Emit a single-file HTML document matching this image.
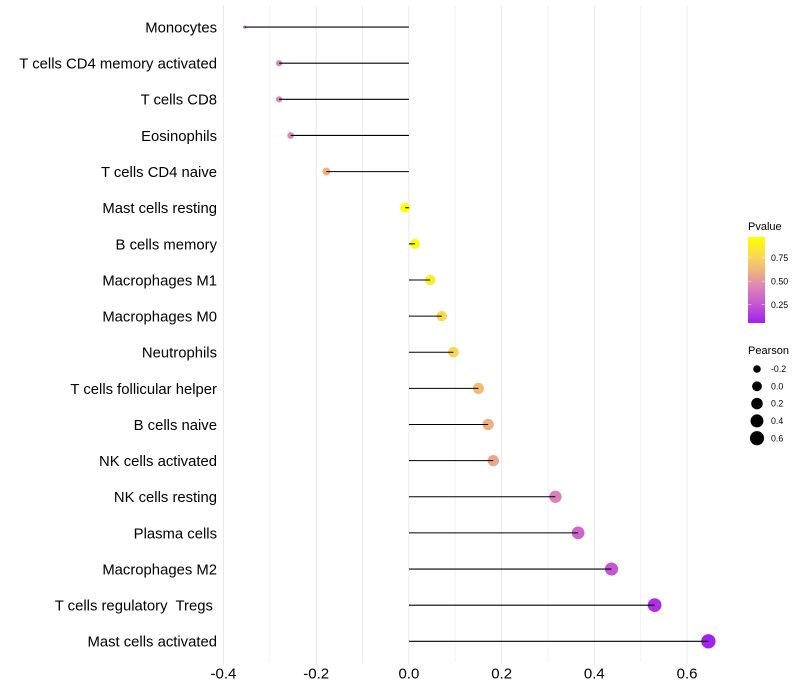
<!DOCTYPE html>
<html>
<head>
<meta charset="utf-8">
<title>Immune cell correlation lollipop chart</title>
<style>
html,body{margin:0;padding:0;background:#fff;}
svg{display:block;font-family:"Liberation Sans",Arial,sans-serif;}
</style>
</head>
<body>
<svg id="chart" xmlns="http://www.w3.org/2000/svg" width="800" height="700" viewBox="0 0 800 700">
  <defs>
    <linearGradient id="pvalue-gradient" x1="0" y1="1" x2="0" y2="0">
      <stop offset="0" stop-color="#a020f0"/>
      <stop offset="0.209" stop-color="#c455d5"/>
      <stop offset="0.429" stop-color="#dd85b5"/>
      <stop offset="0.593" stop-color="#eeb080"/>
      <stop offset="0.758" stop-color="#f7d558"/>
      <stop offset="1" stop-color="#ffff00"/>
    </linearGradient>
  </defs>
  <g id="grid"></g>
  <g id="points"></g>
  <g id="segments"></g>
  <g id="ylabels"></g>
  <g id="xlabels"></g>
  <g>
    <text x="748" y="230" font-size="11" fill="#000">Pvalue</text>
    <rect x="748" y="237" width="17" height="86" fill="url(#pvalue-gradient)"/>
    <g id="pticks"></g>
  </g>
  <g id="sizelegend">
    <text x="748" y="354" font-size="11" fill="#000">Pearson</text>
  </g>
</svg>
<script>
const categories = ["Monocytes","T cells CD4 memory activated","T cells CD8","Eosinophils","T cells CD4 naive","Mast cells resting","B cells memory","Macrophages M1","Macrophages M0","Neutrophils","T cells follicular helper","B cells naive","NK cells activated","NK cells resting","Plasma cells","Macrophages M2","T cells regulatory  Tregs ","Mast cells activated"];
const pearson = [-0.354,-0.28,-0.28,-0.255,-0.178,-0.008,0.013,0.046,0.071,0.096,0.15,0.171,0.182,0.316,0.365,0.437,0.53,0.646];
const pvalue = [0.30,0.45,0.45,0.47,0.60,0.97,0.95,0.88,0.78,0.75,0.65,0.60,0.57,0.43,0.32,0.25,0.12,0.07];
const xMajorTicks = [-0.4,-0.2,0,0.2,0.4,0.6];
const xMinorTicks = [-0.3,-0.1,0.1,0.3,0.5];
const xTickLabels = ["-0.4","-0.2","0.0","0.2","0.4","0.6"];
const pvalueTicks = [0.25,0.5,0.75];
const pvalueTickLabels = ["0.25","0.50","0.75"];
const pearsonLegendValues = [-0.2,0,0.2,0.4,0.6];
const pearsonLegendLabels = ["-0.2","0.0","0.2","0.4","0.6"];

const NS = "http://www.w3.org/2000/svg";
const X0 = 408.9, XK = 463.6, Y0 = 27.08, YSTEP = 36.13;
const PANEL_TOP = 5.3, PANEL_BOTTOM = 662.7;
const xScale = v => X0 + XK * v;
const yScale = i => Y0 + YSTEP * i;
const pScale = p => 328.2 - 94 * p;
const sizeMin = -0.354, sizeMax = 0.646;
const rScale = v => {
  const t = Math.max(0, Math.min(1, (v - sizeMin) / (sizeMax - sizeMin)));
  return 1.6 + 5.6 * Math.sqrt(t);
};
const colorStops = [
  [0.06,[160,32,240]],
  [0.25,[196,85,213]],
  [0.45,[221,133,181]],
  [0.60,[238,176,128]],
  [0.75,[247,213,88]],
  [0.97,[255,255,0]]
];
function pColor(p){
  for(let i=1;i<colorStops.length;i++){
    if(p<=colorStops[i][0]){
      const a=colorStops[i-1],b=colorStops[i];
      const t=Math.max(0,(p-a[0])/(b[0]-a[0]));
      const c=a[1].map((v,k)=>Math.round(v+(b[1][k]-v)*t));
      return "rgb("+c.join(",")+")";
    }
  }
  return "rgb(255,255,0)";
}
function make(tag, attrs, parentId, text){
  const el=document.createElementNS(NS,tag);
  for(const k in attrs) el.setAttribute(k,attrs[k]);
  if(text!==undefined) el.textContent=text;
  document.getElementById(parentId).appendChild(el);
  return el;
}

xMinorTicks.forEach(v=>{
  const el=make("line",{x1:xScale(v),x2:xScale(v),y1:PANEL_TOP,y2:PANEL_BOTTOM,stroke:"#f0f0f0","stroke-width":0.8},"grid");
  
  
});
xMajorTicks.forEach((v,i)=>{
  const line=make("line",{x1:xScale(v),x2:xScale(v),y1:PANEL_TOP,y2:PANEL_BOTTOM+2.7,stroke:"#ebebeb","stroke-width":1.07},"grid");
  
  
  const label=make("text",{x:xScale(v),y:678.5,"text-anchor":"middle","font-size":15,fill:"#000"},"xlabels",xTickLabels[i]);
  
  
});
categories.forEach((c,i)=>{
  const y=yScale(i);
  const label=make("text",{x:217,y:y+5.4,"text-anchor":"end","font-size":14.85,fill:"#000"},"ylabels",c);
  label.style.whiteSpace="pre";
  
  
  const pt=make("circle",{cx:xScale(pearson[i]),cy:y,r:rScale(pearson[i]),fill:pColor(pvalue[i])},"points");
  
  
  const seg=make("line",{x1:xScale(0),x2:xScale(pearson[i]),y1:y,y2:y,stroke:"#000","stroke-width":1.07},"segments");
  
  
});
pvalueTicks.forEach((p,i)=>{
  const y=pScale(p);
  const l=make("line",{x1:748,x2:751.4,y1:y,y2:y,stroke:"#fff","stroke-opacity":0.7,"stroke-width":0.6},"pticks");
  
  
  const r=make("line",{x1:761.6,x2:765,y1:y,y2:y,stroke:"#fff","stroke-opacity":0.7,"stroke-width":0.6},"pticks");
  
  
  const t=make("text",{x:771,y:y+3.1,"font-size":8.8,fill:"#000"},"pticks",pvalueTickLabels[i]);
  
  
});
pearsonLegendValues.forEach((v,i)=>{
  const y=369+17.3*i;
  const c=make("circle",{cx:757,cy:y,r:rScale(v),fill:"#000"},"sizelegend");
  
  
  const t=make("text",{x:771,y:y+3.1,"font-size":8.8,fill:"#000"},"sizelegend",pearsonLegendLabels[i]);
  
  
});
</script>
</body>
</html>
